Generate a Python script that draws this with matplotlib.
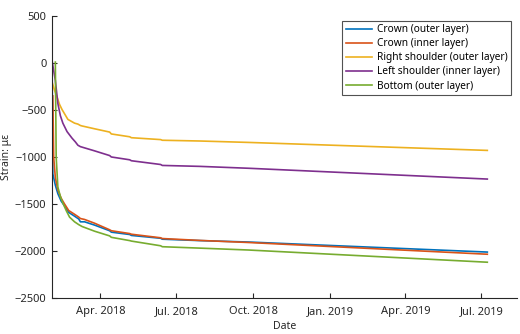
import matplotlib
matplotlib.use("Agg")
import matplotlib.pyplot as plt
import pandas as pd

plt.rcParams['font.family'] = ['Noto Sans', 'DejaVu Sans']

# Data (strain in microstrain)
dates_crown_out = ["2018-02-02", "2018-02-03", "2018-02-06", "2018-02-09", "2018-02-13", "2018-02-17",
                   "2018-02-22", "2018-03-01", "2018-03-06", "2018-03-08", "2018-03-13", "2018-03-25",
                   "2018-04-12", "2018-04-14", "2018-05-06", "2018-05-08", "2018-06-12", "2018-06-14",
                   "2018-07-29", "2018-09-25", "2019-07-08"]
crown_out = [110, -1180, -1300, -1390, -1470, -1520, -1590, -1630, -1660, -1690, -1690, -1725,
             -1785, -1800, -1825, -1835, -1865, -1875, -1890, -1905, -2012]

dates_crown_in = ["2018-02-03", "2018-02-04", "2018-02-06", "2018-02-09", "2018-02-13", "2018-02-17",
                  "2018-02-22", "2018-03-01", "2018-03-06", "2018-03-08", "2018-03-13", "2018-03-25",
                  "2018-04-12", "2018-04-14", "2018-05-06", "2018-05-08", "2018-06-12", "2018-06-14",
                  "2018-07-29", "2018-09-25", "2019-07-08"]
crown_in = [-350, -1000, -1220, -1350, -1440, -1500, -1570, -1610, -1640, -1655, -1665, -1705,
            -1775, -1785, -1815, -1822, -1860, -1868, -1888, -1910, -2035]

dates_right_sh = ["2018-02-02", "2018-02-05", "2018-02-08", "2018-02-11", "2018-02-14", "2018-02-21",
                  "2018-03-01", "2018-03-05", "2018-03-08", "2018-03-10", "2018-03-25", "2018-04-12",
                  "2018-04-14", "2018-05-06", "2018-05-08", "2018-06-12", "2018-06-14", "2018-07-29",
                  "2018-09-25", "2019-07-08"]
right_sh = [-200, -290, -360, -440, -495, -600, -640, -650, -665, -670, -700, -735,
            -755, -785, -795, -815, -822, -830, -845, -930]

dates_left_sh = ["2018-02-02", "2018-02-04", "2018-02-06", "2018-02-09", "2018-02-12", "2018-02-15",
                 "2018-02-20", "2018-02-26", "2018-03-02", "2018-03-05", "2018-03-08", "2018-03-25",
                 "2018-04-12", "2018-04-14", "2018-05-06", "2018-05-08", "2018-06-12", "2018-06-14",
                 "2018-07-29", "2018-09-25", "2019-07-08"]
left_sh = [30, -80, -185, -430, -560, -640, -730, -800, -840, -875, -890, -935,
           -985, -1000, -1030, -1040, -1080, -1090, -1100, -1120, -1235]

dates_bottom = ["2018-02-06", "2018-02-07", "2018-02-09", "2018-02-12", "2018-02-15", "2018-02-19",
                "2018-02-23", "2018-03-01", "2018-03-06", "2018-03-10", "2018-03-25", "2018-04-12",
                "2018-04-14", "2018-05-06", "2018-05-08", "2018-06-12", "2018-06-14", "2018-07-29",
                "2018-09-25", "2019-07-08"]
bottom = [10, -1000, -1320, -1420, -1490, -1570, -1640, -1690, -1720, -1740, -1790, -1840,
          -1855, -1890, -1895, -1945, -1955, -1970, -1990, -2120]

labels = ["Crown (outer layer)", "Crown (inner layer)", "Right shoulder (outer layer)",
          "Left shoulder (inner layer)", "Bottom (outer layer)"]
colors = ["#0072BD", "#D95319", "#EDB120", "#7E2F8E", "#77AC30"]

series = [(dates_crown_out, crown_out), (dates_crown_in, crown_in), (dates_right_sh, right_sh),
          (dates_left_sh, left_sh), (dates_bottom, bottom)]

fig = plt.figure(figsize=(5.2, 3.34), dpi=100)
ax = fig.add_axes([0.1, 0.108, 0.895, 0.844])

for (d, v), lab, c in zip(series, labels, colors):
    ax.plot(pd.to_datetime(d), v, color=c, lw=1.2, label=lab)

ax.set_xlim(pd.Timestamp("2018-02-02"), pd.Timestamp("2019-08-13"))
ax.set_ylim(-2500, 500)
yt = list(range(-2500, 501, 500))
ax.set_yticks(yt)
ax.set_yticklabels([str(t).replace("-", "\u2212") for t in yt])

ticks = pd.to_datetime(["2018-04-01", "2018-07-01", "2018-10-01", "2019-01-01", "2019-04-01", "2019-07-01"])
ax.set_xticks(ticks)
ax.set_xticklabels(["Apr. 2018", "Jul. 2018", "Oct. 2018", "Jan. 2019", "Apr. 2019", "Jul. 2019"])

for s in ["top", "right"]:
    ax.spines[s].set_visible(False)
for s in ["left", "bottom"]:
    ax.spines[s].set_color("#262626")
    ax.spines[s].set_linewidth(0.8)
ax.tick_params(direction="in", length=3.5, width=0.8, labelsize=8, colors="#262626", pad=4)
ax.tick_params(axis="x", pad=6)

ax.set_xlabel("Date", fontsize=7.5, color="#262626", labelpad=3)
ax.set_ylabel("Strain: \u03bc\u03b5", fontsize=7.5, color="#262626", labelpad=2)

leg = ax.legend(loc="upper right", bbox_to_anchor=(0.987, 0.983), fontsize=7.3, frameon=True, fancybox=False,
                edgecolor="#262626", handlelength=2.6, labelspacing=0.3, borderpad=0.35, handletextpad=0.5,
                borderaxespad=0)
leg.get_frame().set_linewidth(0.8)

fig.savefig("out.png", dpi=100)
